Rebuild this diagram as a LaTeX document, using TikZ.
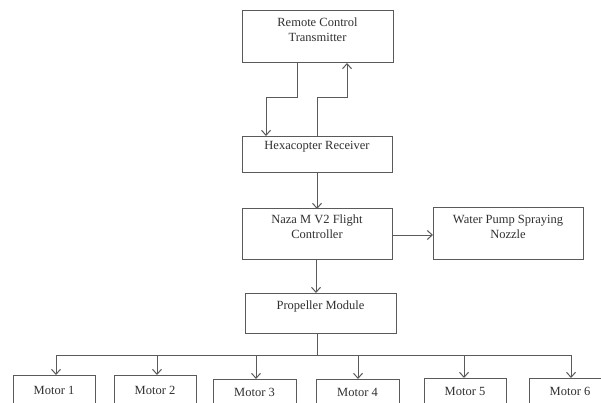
\documentclass[tikz,border=0pt]{standalone}
\usepackage{fontspec}
\setmainfont{Liberation Serif}
\usetikzlibrary{arrows.meta}
\definecolor{ln}{HTML}{5A5A5A}
\definecolor{tx}{HTML}{303030}
\begin{document}
\begin{tikzpicture}[x=1pt,y=-1pt,
  box/.style={draw=ln, line width=1pt, rectangle, anchor=north west, inner sep=0pt},
  txt/.style={text=tx, font=\fontsize{12.5}{15}\selectfont, align=center, inner sep=0pt},
  arr/.style={draw=ln, line width=1pt, -{Straight Barb[length=5pt,width=9pt]}},
  ln/.style={draw=ln, line width=1pt}]
\useasboundingbox (0,0) rectangle (601,403);
\clip (0,0) rectangle (601,403);
\fill[white] (0,0) rectangle (601,403);
% boxes
\node[box, minimum width=151, minimum height=52] (rc) at (242,10) {};
\node[txt] (rct) at (317.5,29.5) {Remote Control\\Transmitter};
\node[box, minimum width=150, minimum height=36] (hr) at (242,136) {};
\node[txt] (hrt) at (317,147) {Hexacopter Receiver};
\node[box, minimum width=150, minimum height=51] (nz) at (242,208) {};
\node[txt] (nzt) at (317,226.5) {Naza M V2 Flight\\Controller};
\node[box, minimum width=150, minimum height=52] (wp) at (433,207) {};
\node[txt] (wpt) at (508,226.5) {Water Pump Spraying\\Nozzle};
\node[box, minimum width=151, minimum height=40] (pm) at (245,293) {};
\node[txt] (pmt) at (320.5,306) {Propeller Module};
\node[box, minimum width=82, minimum height=60] (m1) at (13,375) {};
\node[txt] (m1t) at (54,390) {Motor 1};
\node[box, minimum width=82, minimum height=60] (m2) at (114,375) {};
\node[txt] (m2t) at (155,390) {Motor 2};
\node[box, minimum width=83, minimum height=60] (m3) at (213,379) {};
\node[txt] (m3t) at (254.5,392) {Motor 3};
\node[box, minimum width=83, minimum height=60] (m4) at (316,379) {};
\node[txt] (m4t) at (357.5,392) {Motor 4};
\node[box, minimum width=82, minimum height=60] (m5) at (424,378) {};
\node[txt] (m5t) at (465,391) {Motor 5};
\node[box, minimum width=82, minimum height=60] (m6) at (529,378) {};
\node[txt] (m6t) at (570,391) {Motor 6};
% connectors
\coordinate (bus) at (317,355);
\draw[arr] (rc.south west) ++(55,0) |- (266,98) -- (266,98 |- hr.north);
\draw[arr] (hr.north west) ++(75,0) |- (347,98) -- (347,98 |- rc.south);
\draw[arr] (hr.south west) ++(75,0) -- ++(0,36);
\draw[arr] (nz.east |- 0,235) -- (wp.west |- 0,235);
\draw[arr] (nz.south west) ++(74,0) -- (316,293);
\draw[ln] (bus |- pm.south) -- (bus);
\draw[ln] (56,355) -- (571,355);
\draw[arr] (56,355) -- (56,375);
\draw[arr] (157,355) -- (157,375);
\draw[arr] (256,355) -- (256,379);
\draw[arr] (358,355) -- (358,379);
\draw[arr] (464,355) -- (464,378);
\draw[arr] (571,355) -- (571,378);
\end{tikzpicture}
\end{document}
